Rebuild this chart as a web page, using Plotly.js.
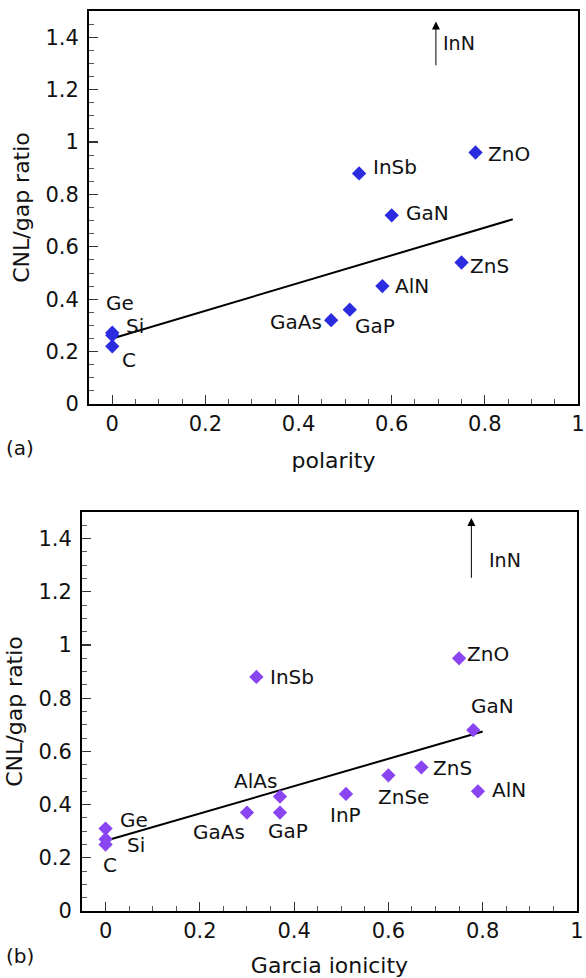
<!DOCTYPE html>
<html>
<head>
<meta charset="utf-8">
<script src="https://cdn.plot.ly/plotly-3.0.1.min.js"></script>
<style>html,body{margin:0;padding:0;background:#fff;}#chart{width:586px;height:978px;}</style>
</head>
<body>
<div id="chart"></div>
<script>
// ---- Panel (a): CNL/gap ratio vs polarity ----
const namesA  = ["Ge", "Si", "C", "GaAs", "GaP", "AlN", "ZnS", "GaN", "InSb", "ZnO"];
const polarity = [0, 0, 0, 0.47, 0.51, 0.58, 0.75, 0.60, 0.53, 0.78];
const ratioA   = [0.272, 0.262, 0.22, 0.32, 0.36, 0.45, 0.54, 0.72, 0.88, 0.96];
const fitAX = [0, 0.86];
const fitAY = [0.25, 0.705];
const innA = {x: 0.695, yHead: 1.46, yTail: 1.287};

// ---- Panel (b): CNL/gap ratio vs Garcia ionicity ----
const namesB  = ["Ge", "Si", "C", "GaAs", "GaP", "AlAs", "InP", "ZnSe", "ZnS", "AlN", "GaN", "ZnO", "InSb"];
const ionicity = [0, 0, 0, 0.30, 0.37, 0.37, 0.51, 0.60, 0.67, 0.79, 0.78, 0.75, 0.32];
const ratioB   = [0.31, 0.27, 0.25, 0.37, 0.37, 0.43, 0.44, 0.51, 0.54, 0.45, 0.68, 0.95, 0.88];
const fitBX = [0, 0.8];
const fitBY = [0.264, 0.675];
const innB = {x: 0.776, yHead: 1.477, yTail: 1.247};

// label offsets (pixels) : [xanchor, xshift, yshift]
const offA = {
  Ge: ["center", 8, 30], Si: ["left", 12, 9], C: ["left", 8, -14],
  GaAs: ["right", -7, -2], GaP: ["left", 3, -16], AlN: ["left", 11, 0],
  ZnS: ["left", 6, -3], GaN: ["left", 12, 2], InSb: ["left", 12, 6], ZnO: ["left", 10, -2]
};
const offB = {
  Ge: ["left", 12, 9], Si: ["left", 19, -6], C: ["center", 4, -20],
  GaAs: ["center", -28, -19], GaP: ["center", 8, -18], AlAs: ["center", -24, 16],
  InP: ["center", 0, -21], ZnSe: ["center", 15, -22], ZnS: ["left", 10, -1],
  AlN: ["left", 12, 1], GaN: ["center", 19, 24], ZnO: ["left", 6, 4], InSb: ["left", 12, 0]
};

const FONT = "DejaVu Sans, Liberation Sans, Arial, sans-serif";
const labelFont = {family: FONT, size: 20, color: "#111"};

function labels(names, xs, ys, off, xr, yr) {
  return names.map((n, i) => ({
    x: xs[i], y: ys[i], xref: xr, yref: yr, text: n, showarrow: false,
    xanchor: off[n][0], yanchor: "middle", xshift: off[n][1], yshift: off[n][2],
    font: labelFont
  }));
}

const traces = [
  {x: fitAX, y: fitAY, xaxis: "x", yaxis: "y", mode: "lines", line: {color: "#000", width: 2}, hoverinfo: "skip"},
  {x: polarity, y: ratioA, text: namesA, xaxis: "x", yaxis: "y", mode: "markers",
   marker: {symbol: "diamond", size: 11, color: "#2b2be0"}},
  {x: fitBX, y: fitBY, xaxis: "x2", yaxis: "y2", mode: "lines", line: {color: "#000", width: 2}, hoverinfo: "skip"},
  {x: ionicity, y: ratioB, text: namesB, xaxis: "x2", yaxis: "y2", mode: "markers",
   marker: {symbol: "diamond", size: 11, color: "#8a45f2"}}
];

function axisCommon(extra) {
  return Object.assign({
    showgrid: false, zeroline: false, showline: true, linecolor: "#000", linewidth: 2, mirror: true,
    ticks: "inside", ticklen: 9, tickwidth: 1.2, tickcolor: "#333",
    minor: {dtick: 0.05, ticks: "inside", ticklen: 5, tickwidth: 1, tickcolor: "#555"},
    dtick: 0.2, tick0: 0, ticklabeloverflow: "allow",
    tickfont: {family: FONT, size: 21, color: "#111"}
  }, extra);
}

const annotations = []
  .concat(labels(namesA, polarity, ratioA, offA, "x", "y"))
  .concat(labels(namesB, ionicity, ratioB, offB, "x2", "y2"))
  .concat([
    // InN arrows (value off-scale)
    {x: innA.x, y: innA.yHead, ax: innA.x, ay: innA.yTail, xref: "x", yref: "y", axref: "x", ayref: "y",
     text: "", showarrow: true, arrowhead: 2, arrowsize: 1.6, arrowwidth: 1, arrowcolor: "#000"},
    {x: innA.x, y: 1.378, xref: "x", yref: "y", text: "InN", showarrow: false, xanchor: "left", xshift: 5,
     font: {family: FONT, size: 19, color: "#111"}},
    {x: innB.x, y: innB.yHead, ax: innB.x, ay: innB.yTail, xref: "x2", yref: "y2", axref: "x2", ayref: "y2",
     text: "", showarrow: true, arrowhead: 2, arrowsize: 1.6, arrowwidth: 1, arrowcolor: "#000"},
    {x: innB.x, y: 1.32, xref: "x2", yref: "y2", text: "InN", showarrow: false, xanchor: "left", xshift: 16,
     font: {family: FONT, size: 19, color: "#111"}},
    // panel tags
    {x: 20/586, y: 1 - 448/978, xref: "paper", yref: "paper", xanchor: "center", yanchor: "middle",
     text: "(a)", showarrow: false, font: {family: FONT, size: 20, color: "#111"}},
    {x: 20/586, y: 1 - 956/978, xref: "paper", yref: "paper", xanchor: "center", yanchor: "middle",
     text: "(b)", showarrow: false, font: {family: FONT, size: 20, color: "#111"}}
  ]);

const layout = {
  width: 586, height: 978,
  margin: {l: 0, r: 0, t: 0, b: 0},
  paper_bgcolor: "#fff", plot_bgcolor: "#fff",
  showlegend: false,
  xaxis: axisCommon({domain: [89/586, 578/586], range: [-0.05, 1.0001], anchor: "y",
    title: {text: "polarity", font: {family: FONT, size: 22, color: "#111"}, standoff: 17}}),
  yaxis: axisCommon({domain: [1 - 404/978, 1 - 11/978], range: [0, 1.5], anchor: "x",
    ticklabelstandoff: 4,
    title: {text: "CNL/gap ratio", font: {family: FONT, size: 22, color: "#111"}, standoff: 10}}),
  xaxis2: axisCommon({domain: [82/586, 577/586], range: [-0.05, 1.0001], anchor: "y2",
    title: {text: "Garcia ionicity", font: {family: FONT, size: 22, color: "#111"}, standoff: 15}}),
  yaxis2: axisCommon({domain: [1 - 911/978, 1 - 512/978], range: [0, 1.5], anchor: "x2",
    ticklabelstandoff: 4,
    title: {text: "CNL/gap ratio", font: {family: FONT, size: 22, color: "#111"}, standoff: 10}}),
  annotations: annotations
};

Plotly.newPlot("chart", traces, layout, {displayModeBar: false, staticPlot: true});
</script>
</body>
</html>
